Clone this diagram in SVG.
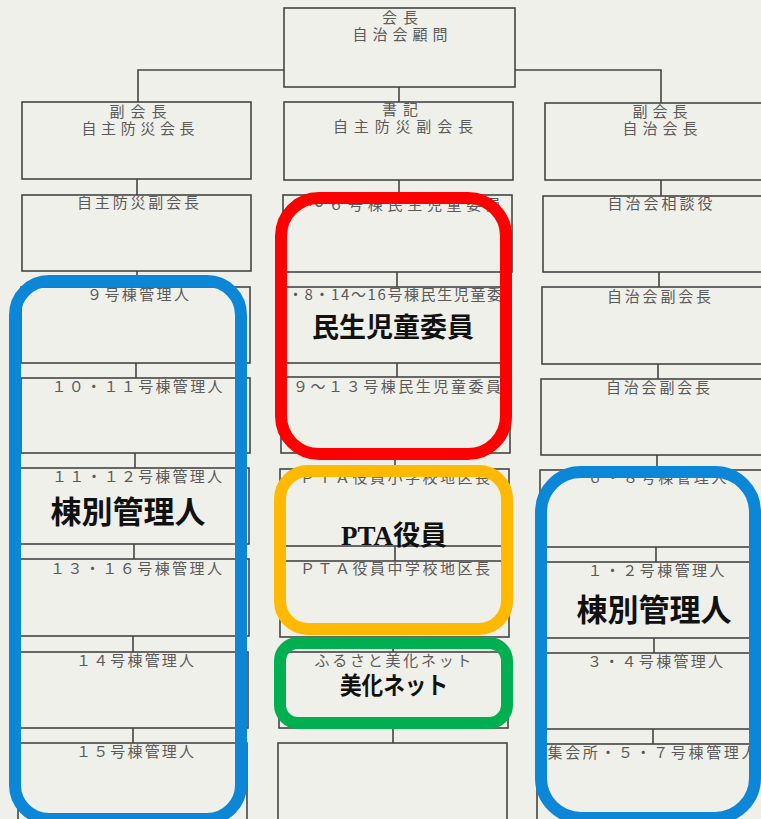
<svg xmlns="http://www.w3.org/2000/svg" width="761" height="819" viewBox="0 0 761 819">
<style>
.box{fill:none;stroke:#454545;stroke-width:1.6}
.ln{fill:none;stroke:#454545;stroke-width:1.6}
.t{font-family:"Noto Sans CJK JP","Noto Sans",sans-serif;font-size:15px;fill:#5a5a5a;text-anchor:middle}
.b{font-family:"Liberation Serif","Noto Sans CJK JP",serif;font-weight:bold;fill:#111;text-anchor:middle}
.hl{fill:none;stroke-width:12}
</style>
<rect x="0" y="0" width="761" height="819" fill="#f0f0eb"/>
<g id="connectors">
<path class="ln" d="M284 70H138V102M515 70H661V103M399 87V102"/>
<path class="ln" d="M137 179V195M137 271V287M136 363V378M135 453V468M134 544V559M133 636V652M133 728V743"/>
<path class="ln" d="M399 180V195M397 272V287M397 363V377M395 453V469M395 546V561M393 637V652M393 728V743"/>
<path class="ln" d="M661 180V196M659 272V287M658 364V379M657 455V470M656 547V562M654 638V653M653 729V744"/>
</g>
<g id="top"><rect class="box" x="284" y="8" width="231" height="79"/>
<text class="t"><tspan x="400" y="23" textLength="36" lengthAdjust="spacing">会長</tspan><tspan x="400" y="40" textLength="95" lengthAdjust="spacing">自治会顧問</tspan></text></g>
<g id="vp-left"><rect class="box" x="22" y="102" width="229" height="77"/>
<text class="t"><tspan x="138" y="117" textLength="57" lengthAdjust="spacing">副会長</tspan><tspan x="138" y="134" textLength="113" lengthAdjust="spacing">自主防災会長</tspan></text></g>
<g id="secretary"><rect class="box" x="284" y="102" width="229" height="78"/>
<text class="t"><tspan x="400" y="115" textLength="36" lengthAdjust="spacing">書記</tspan><tspan x="403" y="132" textLength="140" lengthAdjust="spacing">自主防災副会長</tspan></text></g>
<g id="vp-right"><rect class="box" x="545" y="103" width="240" height="77"/>
<text class="t"><tspan x="660" y="117" textLength="55" lengthAdjust="spacing">副会長</tspan><tspan x="660" y="134" textLength="75" lengthAdjust="spacing">自治会長</tspan></text></g>

<g id="L1"><rect class="box" x="22" y="195" width="229" height="76"/><text class="t" x="138" y="208" textLength="122" lengthAdjust="spacing">自主防災副会長</text></g>
<g id="L2"><rect class="box" x="21" y="287" width="229" height="76"/><text class="t" x="138" y="300" textLength="102" lengthAdjust="spacing">９号棟管理人</text></g>
<g id="L3"><rect class="box" x="21" y="378" width="229" height="75"/><text class="t" x="137" y="392" textLength="171" lengthAdjust="spacing">１０・１１号棟管理人</text></g>
<g id="L4"><rect class="box" x="20" y="468" width="229" height="76"/><text class="t" x="137" y="482" textLength="170" lengthAdjust="spacing">１１・１２号棟管理人</text></g>
<g id="L5"><rect class="box" x="20" y="559" width="229" height="77"/><text class="t" x="136" y="574" textLength="172" lengthAdjust="spacing">１３・１６号棟管理人</text></g>
<g id="L6"><rect class="box" x="19" y="652" width="229" height="76"/><text class="t" x="135" y="666" textLength="118" lengthAdjust="spacing">１４号棟管理人</text></g>
<g id="L7"><rect class="box" x="18" y="743" width="229" height="82"/><text class="t" x="135" y="757" textLength="118" lengthAdjust="spacing">１５号棟管理人</text></g>

<g id="M1"><rect class="box" x="283" y="195" width="229" height="77"/><text class="t" x="395" y="210" textLength="212" lengthAdjust="spacing">１～６号棟民生児童委員</text></g>
<g id="M2"><rect class="box" x="282" y="287" width="229" height="76"/><text class="t" x="395" y="300" textLength="214" lengthAdjust="spacing">・8・14～16号棟民生児童委</text></g>
<g id="M3"><rect class="box" x="281" y="377" width="229" height="76"/><text class="t" x="397" y="392" textLength="208" lengthAdjust="spacing">９～１３号棟民生児童委員</text></g>
<g id="M4"><rect class="box" x="280" y="469" width="229" height="77"/><text class="t" x="395" y="483" textLength="190" lengthAdjust="spacing">ＰＴＡ役員小学校地区長</text></g>
<g id="M5"><rect class="box" x="280" y="561" width="229" height="76"/><text class="t" x="395" y="574" textLength="190" lengthAdjust="spacing">ＰＴＡ役員中学校地区長</text></g>
<g id="M6"><rect class="box" x="279" y="652" width="229" height="76"/><text class="t" x="393" y="666" textLength="157" lengthAdjust="spacing">ふるさと美化ネット</text></g>
<g id="M7"><rect class="box" x="278" y="743" width="229" height="82"/></g>

<g id="R1"><rect class="box" x="543" y="196" width="240" height="76"/><text class="t" x="660" y="209" textLength="105" lengthAdjust="spacing">自治会相談役</text></g>
<g id="R2"><rect class="box" x="542" y="287" width="240" height="77"/><text class="t" x="659" y="302" textLength="104" lengthAdjust="spacing">自治会副会長</text></g>
<g id="R3"><rect class="box" x="541" y="379" width="240" height="76"/><text class="t" x="658" y="393" textLength="104" lengthAdjust="spacing">自治会副会長</text></g>
<g id="R4"><rect class="box" x="540" y="470" width="240" height="77"/><text class="t" x="657" y="483" textLength="139" lengthAdjust="spacing">６・８号棟管理人</text></g>
<g id="R5"><rect class="box" x="539" y="562" width="240" height="76"/><text class="t" x="656" y="576" textLength="137" lengthAdjust="spacing">１・２号棟管理人</text></g>
<g id="R6"><rect class="box" x="538" y="653" width="240" height="76"/><text class="t" x="655" y="667" textLength="136" lengthAdjust="spacing">３・４号棟管理人</text></g>
<g id="R7"><rect class="box" x="537" y="744" width="240" height="82"/><text class="t" x="652" y="758" textLength="209" lengthAdjust="spacing">集会所・５・７号棟管理人</text></g>

<g id="hl-red"><rect class="hl" stroke="#ff0000" x="281" y="198" width="225" height="256" rx="38"/>
<text class="b" x="393" y="337" font-size="27">民生児童委員</text></g>
<g id="hl-orange"><rect class="hl" stroke="#ffb900" x="280" y="471" width="227" height="158" rx="28"/>
<text class="b" x="394" y="545" font-size="27">PTA役員</text></g>
<g id="hl-green"><rect class="hl" stroke="#00b050" x="280" y="643" width="227" height="80" rx="18"/>
<text class="b" x="394" y="694" font-size="24" textLength="108" lengthAdjust="spacingAndGlyphs">美化ネット</text></g>
<g id="hl-blue-left"><rect class="hl" stroke="#0c86d6" x="15" y="281" width="226" height="538" rx="34"/>
<text class="b" x="128" y="523" font-size="31">棟別管理人</text></g>
<g id="hl-blue-right"><rect class="hl" stroke="#0c86d6" x="541" y="472" width="214" height="346" rx="40"/>
<text class="b" x="654" y="621" font-size="31">棟別管理人</text></g>
</svg>
